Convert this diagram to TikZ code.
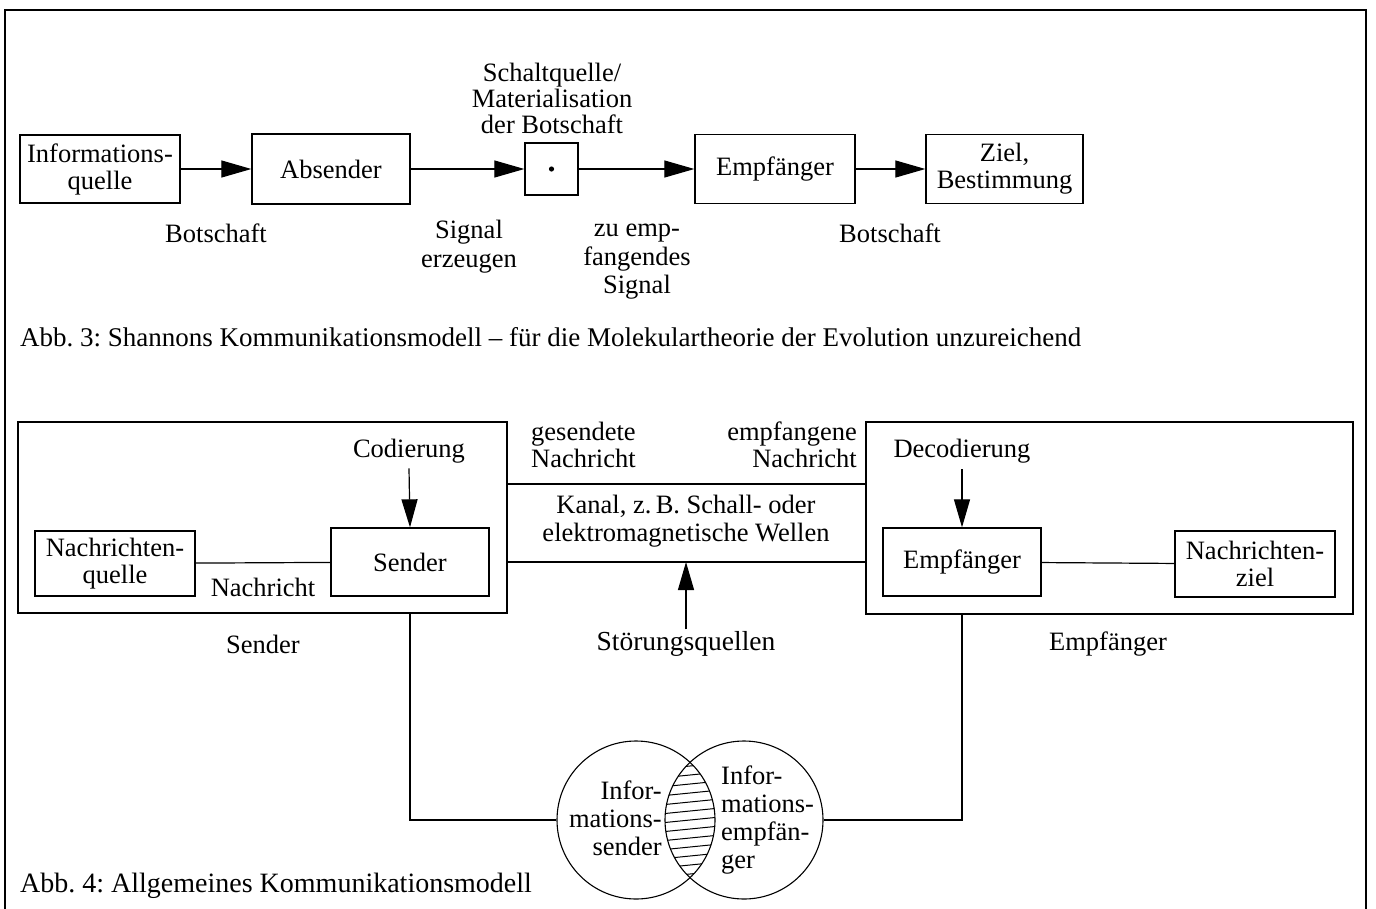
\documentclass[tikz,border=0pt]{standalone}
\usepackage{fontspec}
\setmainfont{Liberation Serif}
\usetikzlibrary{arrows.meta}

\begin{document}
\frenchspacing
\begin{tikzpicture}[x=1pt,y=-1pt,
  every node/.style={font=\fontsize{26.5}{27}\selectfont},
  box/.style={draw, line width=1.3pt, inner sep=0pt},
  lbl/.style={align=center, inner sep=0pt},
  flow/.style={line width=1.2pt, -{Triangle[length=30pt,width=17pt]}},
  vflow/.style={line width=1.2pt, -{Triangle[length=28pt,width=16pt]}},
  link/.style={line width=1.2pt},
  frameline/.style={line width=2.6pt},
  hatch/.style={line width=1pt}]

\useasboundingbox (0,0) rectangle (1376,908);

% page frame (open at the bottom)
\coordinate (fbl) at (5,930);
\coordinate (ftl) at (5,10);
\coordinate (ftr) at (1366,10);
\coordinate (fbr) at (1366,930);
\draw[frameline] (fbl) -- (ftl) -- (ftr) -- (fbr);

% ---------------- Abb. 3 ----------------
\node[box, minimum width=160pt, minimum height=68pt, lbl] (iq) at (100,169) {Informations-\\quelle};
\node[box, minimum width=158pt, minimum height=70pt, lbl] (abs) at (331,169) {Absender};
\node[box, minimum width=53pt, minimum height=52pt] (sq) at (551.5,169) {};
\fill (sq.center) circle (2.6pt);
\node[box, minimum width=160pt, minimum height=69pt, lbl] (emp) at (775,169) {Empfänger};
\node[box, minimum width=157pt, minimum height=69pt, lbl] (ziel) at (1004.5,169) {Ziel,\\Bestimmung};

\draw[flow] (iq) -- (abs);
\draw[flow] (abs) -- (sq);
\draw[flow] (sq) -- (emp);
\draw[flow] (emp) -- (ziel);

\node[lbl, font=\fontsize{26.5}{26}\selectfont] (sqlbl) at (552,98) {Schaltquelle/\\Materialisation\\der Botschaft};
\node[lbl] (b1) at (216,233) {Botschaft};
\node[lbl, font=\fontsize{26.5}{29}\selectfont] (sig1) at (469,247) {Signal\\erzeugen};
\node[lbl, font=\fontsize{26.5}{28.5}\selectfont] (sig2) at (637,262) {zu emp-\\fangendes\\Signal};
\node[lbl] (b2) at (890,233) {Botschaft};

\node[inner sep=0pt, anchor=west, font=\fontsize{27}{27}\selectfont] (cap3) at (20,337) {Abb. 3: Shannons Kommunikationsmodell – für die Molekulartheorie der Evolution unzureichend};

% ---------------- Abb. 4 ----------------
\node[box, minimum width=489pt, minimum height=191pt] (lbig) at (262.5,517.5) {};
\node[box, minimum width=487pt, minimum height=192pt] (rbig) at (1109.5,518) {};

% channel
\coordinate (chTL) at (507,484);
\coordinate (chTR) at (866,484);
\coordinate (chBL) at (507,562);
\coordinate (chBR) at (866,562);
\coordinate (chBM) at (686,562);
\draw[link] (chTL) -- (chTR);
\draw[link] (chBL) -- (chBR);

\node[lbl, align=left, anchor=north west] (gesN) at (531,422) {gesendete\\Nachricht};
\node[lbl, align=right, anchor=north east] (empN) at (857,422) {empfangene\\Nachricht};
\node[lbl, font=\fontsize{26.5}{28}\selectfont] (kanal) at (686,521) {Kanal, z.\,B. Schall- oder\\elektromagnetische Wellen};

\node[lbl, font=\fontsize{27.5}{28}\selectfont] (stoer) at (686,644) {Störungsquellen};
\path (stoer.north) ++(0,-2) coordinate (stoerTop);
\draw[vflow] (stoerTop) -- (chBM);

% sender side
\node[box, minimum width=160pt, minimum height=65pt, lbl] (nq) at (115,563.5) {Nachrichten-\\quelle};
\node[box, minimum width=158pt, minimum height=68pt, lbl] (snd) at (410,562) {Sender};
\draw[link] (nq) -- (snd);
\node[lbl] (nachr) at (263,587) {Nachricht};
\node[lbl] (cod) at (409,451) {Codierung};
\path (cod.south) ++(0,5) coordinate (codB);
\draw[vflow] (codB) -- (snd.north);

% receiver side
\node[box, minimum width=158pt, minimum height=68pt, lbl] (rcv) at (962,562) {Empfänger};
\node[box, minimum width=160pt, minimum height=66pt, lbl] (nz) at (1255,564) {Nachrichten-\\ziel};
\draw[link] (rcv) -- (nz);
\node[lbl] (decod) at (962,451) {Decodierung};
\path (decod.south) ++(0,6) coordinate (decB);
\draw[vflow] (decB) -- (rcv.north);

\node[lbl] (sndlbl) at (263,644) {Sender};
\node[lbl] (rcvlbl) at (1108,644) {Empfänger};

% overlapping circles
\node[circle, draw, line width=1.1pt, minimum size=158pt, inner sep=0pt] (c1) at (636,820) {};
\node[circle, draw, line width=1.1pt, minimum size=158pt, inner sep=0pt] (c2) at (744,820) {};
\begin{scope}
  \clip (636,820) circle (79pt);
  \clip (744,820) circle (79pt);
  \foreach \y in {757,766,...,892}
    \draw[hatch] (650,\y+4) -- (730,\y-4);
\end{scope}

\node[lbl, align=right, anchor=east, font=\fontsize{26.5}{28}\selectfont] (c1t) at (662,818) {Infor-\\mations-\\sender};
\node[lbl, align=left, anchor=west, font=\fontsize{26.5}{28}\selectfont] (c2t) at (721,820) {Infor-\\mations-\\empfän-\\ger};

\coordinate (lcorner) at (snd.south |- c1.west);
\coordinate (rcorner) at (rcv.south |- c2.east);
\draw[link] (snd.south |- lbig.south) -- (lcorner) -- (c1.west);
\draw[link] (rcv.south |- rbig.south) -- (rcorner) -- (c2.east);

\node[inner sep=0pt, anchor=west, font=\fontsize{28}{28}\selectfont] (cap4) at (20,886) {Abb. 4: Allgemeines Kommunikationsmodell};

\end{tikzpicture}
\end{document}
